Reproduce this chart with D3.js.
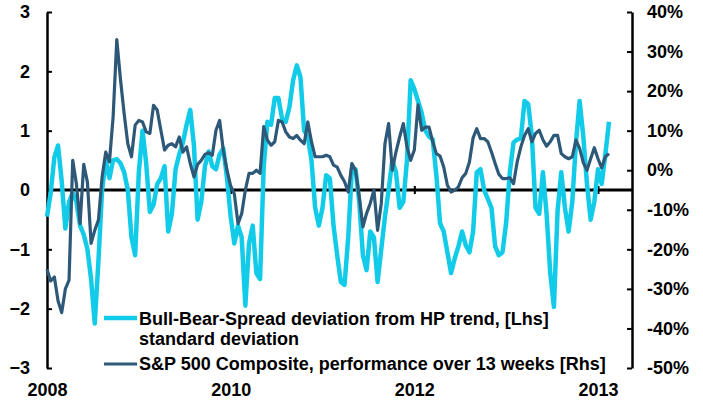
<!DOCTYPE html>
<html>
<head>
<meta charset="utf-8">
<script src="https://cdn.jsdelivr.net/npm/d3@7"></script>
<style>
  body { margin: 0; background: #fff; }
  svg text { font-family: "Liberation Sans", Arial, sans-serif; font-weight: bold; fill: #000; }
</style>
</head>
<body>
<div id="chart"></div>
<script>
// Bull-Bear-Spread deviation from HP trend, standard deviations (lhs)
var bullBear = [
  -0.45, -0.05, 0.55, 0.75, 0.15, -0.65, -0.2, -0.05, -0.2, -0.6,
  -0.75, -1.0, -1.5, -2.25, -1.2, 0.0, 0.5, 0.2, 0.5, 0.52,
  0.45, 0.3, 0.0, -0.8, -1.1, 0.3, 1.0, 0.45, -0.37, -0.25,
  0.1, 0.2, 0.4, -0.7, -0.4, 0.35, 0.6, 0.8, 1.1, 1.35,
  0.75, -0.5, -0.2, 0.4, 0.65, 0.4, 0.35, 0.6, 0.7, 0.2,
  -0.45, -0.9, -0.6, -0.8, -1.95, -0.9, -0.6, -1.4, -1.5, 0.4,
  1.15, 1.1, 1.55, 1.55, 1.2, 1.15, 1.4, 1.85, 2.1, 1.9,
  1.0, 0.9, 0.5, -0.3, -0.6, -0.3, 0.25, 0.2, -0.6, -1.1,
  -1.55, -1.6, -0.8, 0.35, 0.35, -0.2, -1.1, -1.35, -0.7, -0.8,
  -1.55, -1.0, -0.45, 0.0, 0.5, 0.3, -0.3, -0.2, 0.5, 1.85,
  1.7, 1.5, 1.3, 1.0, 0.9, 0.85, 0.25, -0.56, -0.7, -1.05,
  -1.4, -1.15, -0.95, -0.7, -0.93, -1.05, -0.7, 0.3, 0.35, 0.0,
  -0.15, -0.3, -0.95, -1.1, -1.05, -0.55, 0.3, 0.8, 0.85, 0.87,
  1.5, 1.45, 0.9, -0.3, -0.4, 0.3, -0.4, -1.4, -1.97, -0.35,
  0.3, -0.3, -0.7, -0.2, 0.8, 1.5, 0.9, 0.1, -0.5, -0.2,
  0.35, 0.1, 0.6, 1.15
];

// S&P 500 Composite, performance over 13 weeks in % (rhs)
var spx13w = [
  -25, -28, -27, -33, -36, -30, -27.8, 2.5, -3.4, -13.5,
  1.5, -3, -18.5, -15.2, -12.6, -1.7, 4.6, 2.1, 13.5, 33,
  23, 14.3, 6.7, 3.4, 11.4, 12.6, 12.2, 9.7, 9.3, 16.4,
  15.2, 10.1, 5.1, 6.3, 6.7, 5.9, 8.4, 4.6, 5.9, 1.7,
  -1.7, 1.5, 2.5, 4.0, 4.4, 3.8, 10.1, 12.6, 5, 0,
  -4, -6, -13.5, -11, -5, -0.8, -0.8, 0, -0.8, 11,
  7.6, 6.3, 7.2, 12.6, 12.2, 9.7, 8.4, 8.0, 8.8, 7.6,
  6.7, 12.2, 7.2, 3.4, 3.4, 3.4, 3.8, 3.4, 1.3, 0.8,
  -1.3, -2.9, -5.5, 1.7, 0, -6.7, -14.3, -10.9, -8.4, -5,
  -15.2, -8.4, 6.7, 11.8, 0, 4.6, 8.4, 11.8, 5.9, 2.5,
  5.1, 16.5, 10.1, 10.9, 10.9, 7.2, 4.2, 3.6, 0.8, -3.8,
  -5.5, -5.1, -4.2, -1.9, -0.8, 2.1, 8.2, 10.5, 8.0, 8.0,
  7.2, 4.6, 1.7, -1.0, -2.1, -2.1, -1.9, -3.4, 2.1, 5.9,
  8.8, 10.5, 7.2, 9.3, 10.1, 7.7, 6.1, 7.2, 8.8, 8.8,
  4.2, 3.4, 2.9, 3.4, 7.6, 5.5, 1.9, 0, 2.9, 5.7,
  2.9, 0.6, 3.4, 4.2
];

var xTickIdx = [0, 50, 100, 150];
var xTickLabels = ["2008", "2010", "2012", "2013"];
var leftTicks = [-3, -2, -1, 0, 1, 2, 3];
var rightTicks = [-50, -40, -30, -20, -10, 0, 10, 20, 30, 40];
var legendLabels = [
  ["Bull-Bear-Spread deviation from HP trend, [Lhs]", "standard deviation"],
  ["S&P 500 Composite, performance over 13 weeks [Rhs]"]
];

var width = 703;
var height = 400;
var cyan = "#12cbe8";
var navy = "#2e5877";

var svg = d3.select("#chart")
    .append("svg")
    .attr("width", width)
    .attr("height", height);

var x = d3.scaleLinear().domain([0, 150]).range([47, 598]);
var yL = d3.scaleLinear().domain([-3, 3]).range([368, 12]);
var yR = d3.scaleLinear().domain([-50, 40]).range([368, 12]);

// left axis
var axL = svg.append("g")
    .attr("transform", "translate(47,0)")
    .call(d3.axisLeft(yL).tickValues(leftTicks).tickSizeInner(-5).tickSizeOuter(0).tickPadding(17)
        .tickFormat(d3.format("d")));

// right axis
var axR = svg.append("g")
    .attr("transform", "translate(632,0)")
    .call(d3.axisRight(yR).tickValues(rightTicks).tickSizeInner(-5).tickSizeOuter(0).tickPadding(15)
        .tickFormat(function(d){ return d + "%"; }));

[axL, axR].forEach(function(ax){
    ax.select(".domain").attr("stroke", "#000").attr("stroke-width", 2.5);
    ax.selectAll(".tick line").attr("stroke", "#000").attr("stroke-width", 2);
    ax.selectAll(".tick text")
        .style("font-size", "18px")
        .style("font-family", "'Liberation Sans', Arial, sans-serif")
        .style("font-weight", "bold")
        .attr("fill", "#000");
});

// zero line
svg.append("line")
    .attr("x1", 47)
    .attr("x2", 632)
    .attr("y1", yL(0))
    .attr("y2", yL(0))
    .attr("stroke", "#000")
    .attr("stroke-width", 3);

// year tick marks on zero line
var axTicks = svg.append("g")
    .attr("transform", "translate(0," + (yL(0) - 4) + ")")
    .call(d3.axisBottom(x).tickValues(xTickIdx.slice(1)).tickSize(8).tickFormat(""));
axTicks.select(".domain").remove();
axTicks.selectAll(".tick line").attr("stroke", "#000").attr("stroke-width", 2);

// year labels
var axX = svg.append("g")
    .attr("transform", "translate(0,383)")
    .call(d3.axisBottom(x).tickValues(xTickIdx).tickSize(0).tickPadding(0)
        .tickFormat(function(d, i){ return xTickLabels[i]; }));
axX.select(".domain").remove();
axX.selectAll(".tick text")
    .style("font-size", "18px")
    .style("font-family", "'Liberation Sans', Arial, sans-serif")
    .style("font-weight", "bold")
    .attr("fill", "#000");

// lines
var lineL = d3.line()
    .x(function(d, i){ return x(i); })
    .y(function(d){ return yL(d); });

var lineR = d3.line()
    .x(function(d, i){ return x(i); })
    .y(function(d){ return yR(d); });

svg.append("path")
    .datum(bullBear)
    .attr("d", lineL)
    .attr("fill", "none")
    .attr("stroke", cyan)
    .attr("stroke-width", 4.5)
    .attr("stroke-linejoin", "round");

svg.append("path")
    .datum(spx13w)
    .attr("d", lineR)
    .attr("fill", "none")
    .attr("stroke", navy)
    .attr("stroke-width", 3.2)
    .attr("stroke-linejoin", "round");

// legend
var legend = svg.append("g");
legend.append("line")
    .attr("x1", 104).attr("x2", 137)
    .attr("y1", 318).attr("y2", 318)
    .attr("stroke", cyan).attr("stroke-width", 4.5);
legend.append("line")
    .attr("x1", 104).attr("x2", 137)
    .attr("y1", 364).attr("y2", 364)
    .attr("stroke", navy).attr("stroke-width", 3.2);

var t1 = legend.append("text")
    .attr("x", 139)
    .attr("y", 325)
    .style("font-size", "18px");
t1.append("tspan").attr("x", 139).text(legendLabels[0][0]);
t1.append("tspan").attr("x", 139).attr("dy", 20).text(legendLabels[0][1]);

legend.append("text")
    .attr("x", 139)
    .attr("y", 370)
    .style("font-size", "18px")
    .text(legendLabels[1][0]);
</script>
</body>
</html>
